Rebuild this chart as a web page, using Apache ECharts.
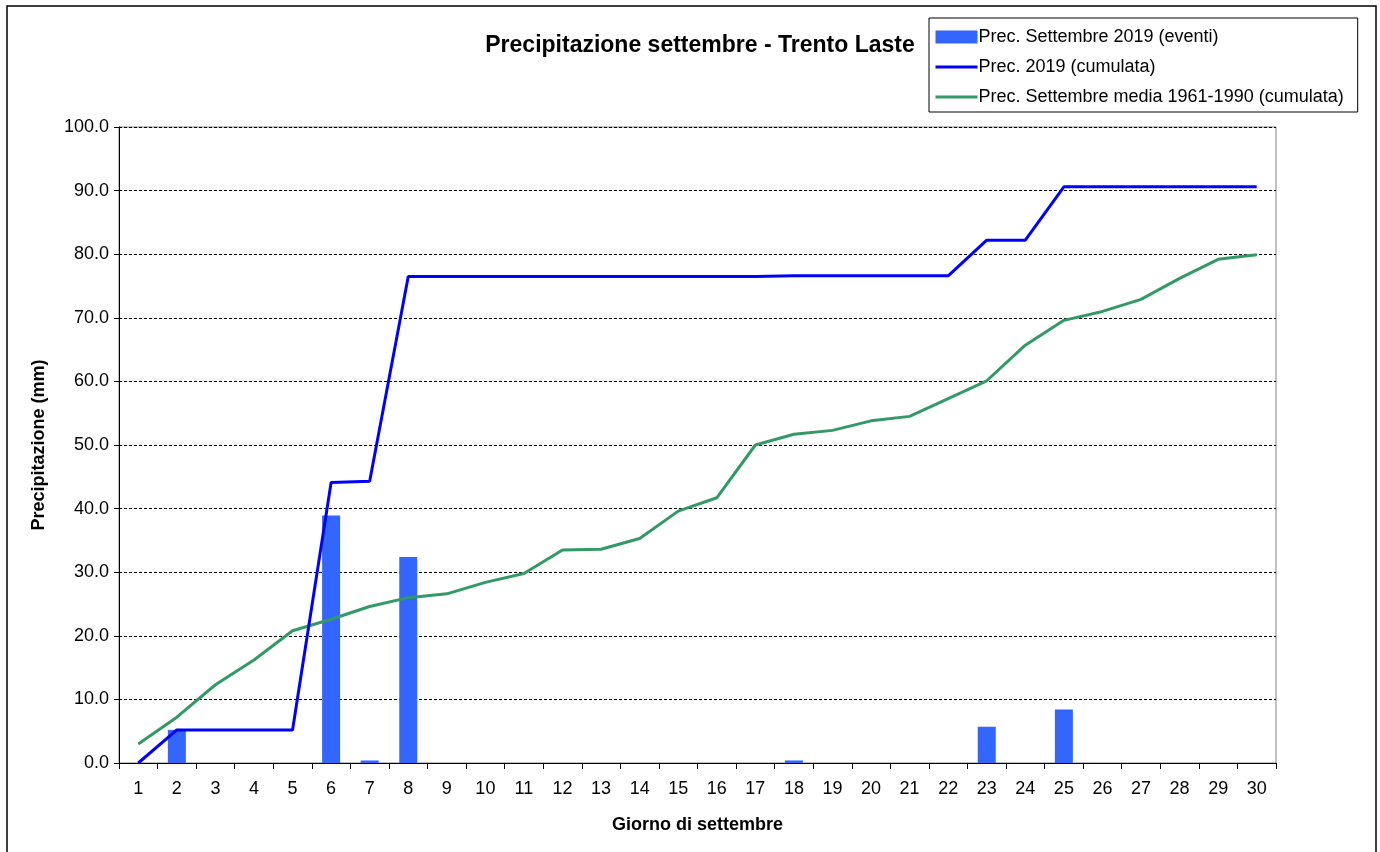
<!DOCTYPE html>
<html>
<head>
<meta charset="utf-8">
<script src="https://cdn.jsdelivr.net/npm/echarts@6/dist/echarts.min.js"></script>
<style>html,body{margin:0;padding:0;background:#fff;}#c{width:1380px;height:852px;}</style>
</head>
<body>
<div id="c"></div>
<script>
const days = ['1','2','3','4','5','6','7','8','9','10','11','12','13','14','15','16','17','18','19','20','21','22','23','24','25','26','27','28','29','30'];
const eventi2019 = [0, 5.2, 0, 0, 0, 38.9, 0.4, 32.4, 0, 0, 0, 0, 0, 0, 0, 0, 0, 0.4, 0, 0, 0, 0, 5.7, 0, 8.4, 0, 0, 0, 0, 0];
const cumulata2019 = [0, 5.2, 5.2, 5.2, 5.2, 44.1, 44.3, 76.5, 76.5, 76.5, 76.5, 76.5, 76.5, 76.5, 76.5, 76.5, 76.5, 76.6, 76.6, 76.6, 76.6, 76.6, 82.2, 82.2, 90.6, 90.6, 90.6, 90.6, 90.6, 90.6];
const mediaCumulata = [3.0, 7.2, 12.3, 16.2, 20.8, 22.6, 24.6, 26.0, 26.6, 28.4, 29.8, 33.5, 33.6, 35.3, 39.6, 41.7, 50.0, 51.7, 52.3, 53.8, 54.5, 57.3, 60.1, 65.7, 69.6, 71.0, 72.9, 76.2, 79.2, 79.9];
const seriesNames = ['Prec. Settembre 2019 (eventi)', 'Prec. 2019 (cumulata)', 'Prec. Settembre media 1961-1990 (cumulata)'];

const FONT = '"Liberation Sans", Arial, sans-serif';
const chart = echarts.init(document.getElementById('c'), null, {renderer: 'canvas'});
chart.setOption({
  animation: false,
  backgroundColor: '#fff',
  title: {
    text: 'Precipitazione settembre - Trento Laste',
    left: 695, top: 29, textAlign: 'center',
    textStyle: {fontFamily: FONT, fontSize: 23, fontWeight: 'bold', color: '#000'}
  },
  legend: {
    orient: 'vertical',
    left: 929, top: 18,
    padding: [10, 14, 6, 5],
    itemWidth: 42, itemHeight: 13, itemGap: 12,
    backgroundColor: '#fff',
    borderColor: '#000', borderWidth: 1,
    textStyle: {fontFamily: FONT, fontSize: 18, color: '#000', padding: [0, 0, 0, -4]},
    data: [
      {name: seriesNames[0], icon: 'rect'},
      {name: seriesNames[1], itemStyle: {opacity: 0}, lineStyle: {width: 3}},
      {name: seriesNames[2], itemStyle: {opacity: 0}, lineStyle: {width: 3}}
    ]
  },
  graphic: [{
    type: 'rect', shape: {x: 7, y: 6, width: 1369, height: 860},
    style: {fill: 'none', stroke: '#000', lineWidth: 1.5}, silent: true, z: -1
  }],
  grid: {
    left: 119, right: 104, top: 127, bottom: 89,
    show: true, borderColor: '#808080', borderWidth: 1, backgroundColor: 'transparent'
  },
  xAxis: {
    type: 'category', data: days,
    name: 'Giorno di settembre', nameLocation: 'middle', nameGap: 53,
    nameTextStyle: {fontFamily: FONT, fontSize: 18, fontWeight: 'bold', color: '#000'},
    axisLine: {lineStyle: {color: '#000', width: 1}},
    axisTick: {show: true, length: 6, alignWithLabel: false, lineStyle: {color: '#000'}},
    axisLabel: {fontFamily: FONT, fontSize: 18, color: '#000', margin: 17, interval: 0},
    splitLine: {show: false}
  },
  yAxis: {
    type: 'value', min: 0, max: 100, interval: 10,
    name: 'Precipitazione (mm)', nameLocation: 'middle', nameGap: 71, nameRotate: 90,
    nameTextStyle: {fontFamily: FONT, fontSize: 18, fontWeight: 'bold', color: '#000'},
    axisLine: {show: true, lineStyle: {color: '#000', width: 1}},
    axisTick: {show: true, length: 5, lineStyle: {color: '#000'}},
    axisLabel: {fontFamily: FONT, fontSize: 18, color: '#000', margin: 10, formatter: v => v.toFixed(1)},
    splitLine: {show: true, lineStyle: {color: '#000', type: [3, 2], width: 1}}
  },
  series: [
    {
      name: seriesNames[0], type: 'bar', data: eventi2019, barWidth: 18,
      itemStyle: {color: '#3366FF'}, z: 2
    },
    {
      name: seriesNames[1], type: 'line', data: cumulata2019,
      symbol: 'none', lineStyle: {color: '#0000FF', width: 3}, itemStyle: {color: '#0000FF'}, z: 4
    },
    {
      name: seriesNames[2], type: 'line', data: mediaCumulata,
      symbol: 'none', lineStyle: {color: '#339966', width: 3}, itemStyle: {color: '#339966'}, z: 3
    }
  ]
});
</script>
</body>
</html>
